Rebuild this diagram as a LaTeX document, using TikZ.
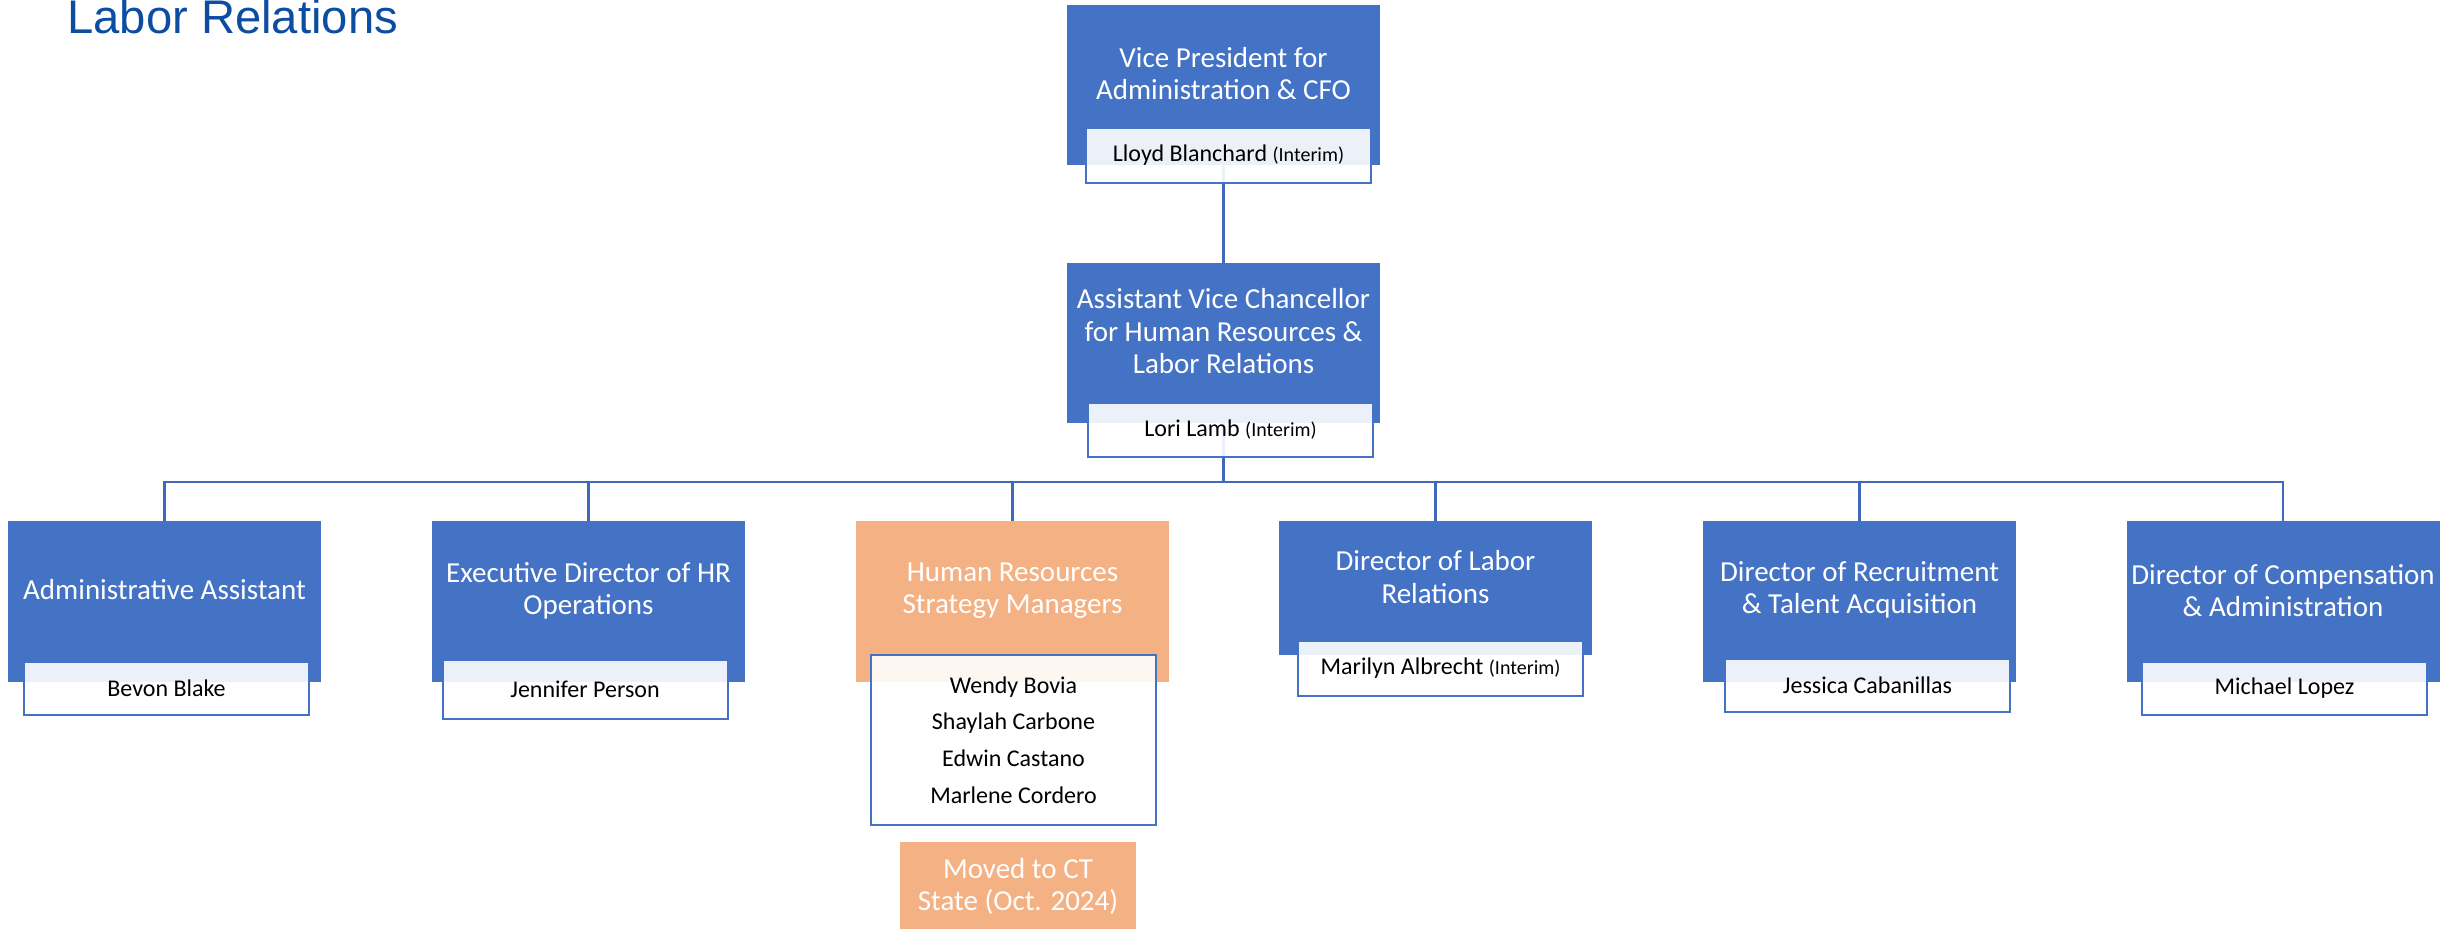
\documentclass[tikz,border=0pt]{standalone}
\usepackage{fontspec}
\setmainfont{Carlito}
\newfontfamily\arialfont{Liberation Sans}
\definecolor{boxblue}{HTML}{4472C4}
\definecolor{lineblue}{HTML}{4169B9}
\definecolor{boxorange}{HTML}{F4B183}
\definecolor{titleblue}{HTML}{0C4DA2}
\pgfdeclarelayer{bg}
\pgfsetlayers{bg,main}
\tikzset{
  bluebox/.style={fill=boxblue, inner sep=0pt, minimum width=156.5pt, minimum height=80.5pt},
  orangebox/.style={fill=boxorange, inner sep=0pt, minimum width=156.5pt, minimum height=80.5pt},
  namebox/.style={draw=boxblue, line width=1pt, fill=white, fill opacity=0.9, text opacity=1,
    minimum width=142.5pt, minimum height=27pt, inner sep=0pt, text=black,
    font=\fontsize{12}{14}\selectfont},
  ttl/.style={text=white, align=center, font=\fontsize{14.5}{16.25}\selectfont, inner sep=0pt},
  conn/.style={draw=lineblue, line width=1.25pt},
}
\newcommand{\interim}{{\fontsize{10}{12}\selectfont(Interim)}}
\begin{document}
\begin{tikzpicture}[x=0.5pt,y=-0.5pt]
\useasboundingbox (0,0) rectangle (2458,930);

\node[anchor=base west, font=\arialfont\fontsize{23.6}{28}\selectfont, text=titleblue, inner sep=0pt] (title) at (67,34) {Labor Relations};

% top boxes
\node[bluebox, minimum height=80pt] (vp) at (1223.5,85) {};
\node[ttl] (vpT) at (1223.5,73.5) {Vice President for\\Administration \& CFO};
\node[namebox, minimum height=27.5pt] (vpN) at (1228.5,155.5) {Lloyd Blanchard \interim};

\node[bluebox, minimum height=80pt] (avc) at (1223.5,343) {};
\node[ttl] (avcT) at (1223.5,331.5) {Assistant Vice Chancellor\\for Human Resources \&\\Labor Relations};
\node[namebox] (avcN) at (1230.5,430) {Lori Lamb \interim};

% second row
\node[bluebox] (b1) at (164.5,601.5) {};
\node[ttl] (b1T) at (164.5,590) {Administrative Assistant};
\node[namebox, minimum height=26.5pt] (n1) at (166.5,688.5) {Bevon Blake};

\node[bluebox] (b2) at (588.5,601.5) {};
\node[ttl] (b2T) at (588.5,591) {Executive Director of HR\\Operations};
\node[namebox, minimum height=29.5pt] (n2) at (585,689.5) {Jennifer Person};

\node[orangebox] (b3) at (1012.5,601.5) {};
\node[ttl] (b3T) at (1012.5,590.5) {Human Resources\\Strategy Managers};
\node[namebox, minimum height=85pt, align=center, font=\fontsize{12}{18.35}\selectfont] (n3) at (1013.5,740) {Wendy Bovia\\Shaylah Carbone\\Edwin Castano\\Marlene Cordero};
\node[fill=boxorange, inner sep=0pt, minimum width=118pt, minimum height=43.5pt] (mv) at (1018,885.5) {};
\node[ttl] (mvT) at (1018,886.5) {Moved to CT\\State (Oct. 2024)};

\node[bluebox, minimum height=67pt] (b4) at (1435.5,588) {};
\node[ttl] (b4T) at (1435.5,577) {Director of Labor\\Relations};
\node[namebox, minimum height=27.5pt] (n4) at (1440.5,668.5) {Marilyn Albrecht \interim};

\node[bluebox] (b5) at (1859.5,601.5) {};
\node[ttl] (b5T) at (1859.5,590) {Director of Recruitment\\\& Talent Acquisition};
\node[namebox, minimum height=26.5pt] (n5) at (1867.5,685.5) {Jessica Cabanillas};

\node[bluebox] (b6) at (2283,601.5) {};
\node[ttl] (b6T) at (2283,590.5) {Director of Compensation\\\& Administration};
\node[namebox, minimum height=26.5pt] (n6) at (2284.5,688.5) {Michael Lopez};

\coordinate (bus) at (1223.5,482);
\begin{pgfonlayer}{bg}
\draw[conn] (vp.south) -- (avc.north);
\draw[conn] (avc.south) -- (bus);
\foreach \c in {b1,b2,b3,b4,b5,b6} \draw[conn] (bus) -| (\c.north);
\end{pgfonlayer}
\end{tikzpicture}
\end{document}
